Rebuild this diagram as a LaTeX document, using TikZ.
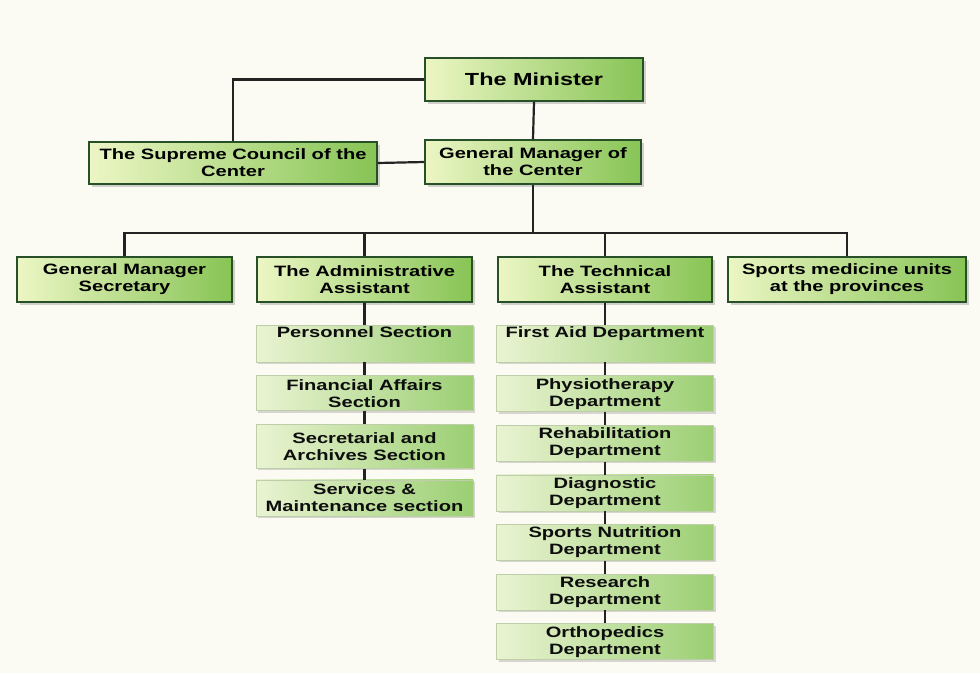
\documentclass[tikz,border=0pt]{standalone}
\usepackage{fontspec}
\newfontfamily\chartfont[FakeStretch=1.34]{Liberation Sans}
\usetikzlibrary{positioning,shadows}
\definecolor{bgcream}{RGB}{252,251,243}
\definecolor{boxedge}{RGB}{40,80,40}
\definecolor{boxlight}{RGB}{236,246,196}
\definecolor{boxgreen}{RGB}{135,196,85}
\definecolor{sublight}{RGB}{234,243,210}
\definecolor{subgreen}{RGB}{155,207,115}
\definecolor{subedge}{RGB}{190,206,170}
\definecolor{linegray}{RGB}{35,35,35}
\begin{document}
\begin{tikzpicture}[x=1pt, y=-1pt, node distance=13pt,
  font=\chartfont\bfseries\fontsize{15}{17}\selectfont,
  top/.style={draw=boxedge, line width=1.5pt, left color=boxlight,
              right color=boxgreen, minimum height=44pt, align=center,
              inner sep=2pt, text=black,
              drop shadow={shadow xshift=2.5pt, shadow yshift=-2.5pt, opacity=0.35}},
  sub/.style={draw=subedge, line width=0.6pt, left color=sublight,
              right color=subgreen, minimum width=217pt, minimum height=36pt,
              align=center, inner sep=2pt, text=black!95,
              drop shadow={shadow xshift=2pt, shadow yshift=-2pt, opacity=0.3}},
  ln/.style={draw=linegray, line width=2.2pt}]
\fill[bgcream] (0,0) rectangle (980,673);
\useasboundingbox (0,0) rectangle (980,673);

% top of the chart
\node[top, minimum width=218pt, minimum height=43pt,
      font=\chartfont\bfseries\fontsize{17.5}{20}\selectfont] (min) at (534,79.5) {The Minister};
\node[top, minimum width=288pt, minimum height=42pt] (cncl) at (233,163) {The Supreme Council of the\\Center};
\node[top, minimum width=216pt] (gm) at (533,162) {General Manager of\\the Center};

% second level
\node[top, minimum width=215pt, minimum height=45pt] (sec) at (124.5,279.5) {General Manager\\Secretary};
\node[top, minimum width=215pt, minimum height=45pt] (adm) at (364.5,279.5) {The Administrative\\Assistant};
\node[top, minimum width=214pt, minimum height=45pt] (tech) at (605,279.5) {The Technical\\Assistant};
\node[top, minimum width=238pt, minimum height=45pt] (prov) at (847,279.5) {Sports medicine units\\at the provinces};

% administrative sections
\node[sub, below=22pt of adm, minimum height=37pt] (pers) {Personnel Section\\\strut};
\node[sub, below=of pers, minimum height=35pt] (fin) {Financial Affairs\\Section};
\node[sub, below=of fin, minimum height=44pt] (arch) {Secretarial and\\Archives Section};
\node[sub, below=11pt of arch] (serv) {Services \&\\Maintenance section};

% technical departments
\node[sub, below=22pt of tech] (aid) {First Aid Department\\\strut};
\node[sub, below=of aid] (phys) {Physiotherapy\\Department};
\node[sub, below=of phys] (rehab) {Rehabilitation\\Department};
\node[sub, below=of rehab] (diag) {Diagnostic\\Department};
\node[sub, below=of diag] (nutr) {Sports Nutrition\\Department};
\node[sub, below=of nutr] (res) {Research\\Department};
\node[sub, below=of res] (orth) {Orthopedics\\Department};

\draw[ln] (min.west) -| (cncl.north);
\draw[ln] (min.south) -- (gm.north);
\draw[ln] (cncl.east) -- (gm.west);
\coordinate[below=48pt of gm.south] (bus);
\draw[ln] (gm.south) -- (bus);
\foreach \n in {sec,adm,tech,prov}
  \draw[ln] (bus) -| (\n.north);
\foreach \a/\b in {adm/pers,pers/fin,fin/arch,arch/serv,
                   tech/aid,aid/phys,phys/rehab,rehab/diag,diag/nutr,nutr/res,res/orth}
  \draw[ln] (\a.south) -- (\b.north);
\end{tikzpicture}
\end{document}
